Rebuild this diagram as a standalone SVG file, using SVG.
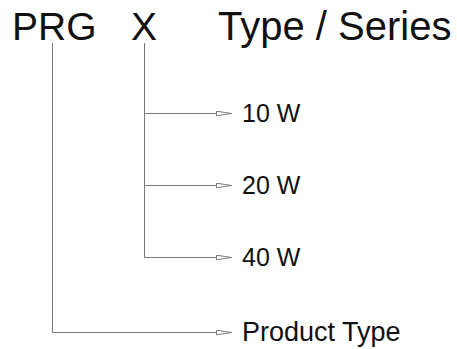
<svg xmlns="http://www.w3.org/2000/svg" width="457" height="349" viewBox="0 0 457 349">
<defs>
<marker id="arr" viewBox="0 0 16 6" refX="16" refY="3" markerWidth="16" markerHeight="6" markerUnits="userSpaceOnUse" orient="auto">
<path d="M0.5,0.7 L15.5,3 L0.5,5.3 Z" fill="#fff" stroke="#7a7a7a" stroke-width="1"/>
</marker>
<style>
.big{font-family:"Liberation Sans",Arial,sans-serif;font-size:39px;fill:#111}
.sm{font-family:"Liberation Sans",Arial,sans-serif;font-size:25px;fill:#111}
.ln{fill:none;stroke:#7a7a7a;stroke-width:1}
</style>
</defs>
<rect width="457" height="349" fill="#fff"/>
<g id="prg"><text class="big" x="12" y="40">PRG</text></g>
<g id="x"><text class="big" x="131" y="40">X</text></g>
<g id="type-series"><text class="big" x="218" y="40" style="font-size:40px">Type / Series</text></g>
<g id="w10"><text class="sm" x="242" y="122">10 W</text></g>
<g id="w20"><text class="sm" x="242" y="194">20 W</text></g>
<g id="w40"><text class="sm" x="242" y="266">40 W</text></g>
<g id="product-type"><text class="sm" x="242" y="341" style="font-size:27px">Product Type</text></g>
<g id="connectors">
<path class="ln" d="M52.5,43 V332.5 H232" marker-end="url(#arr)"/>
<path class="ln" d="M144.5,43 V257.5 H232" marker-end="url(#arr)"/>
<path class="ln" d="M144.5,113.5 H232" marker-end="url(#arr)"/>
<path class="ln" d="M144.5,185.5 H232" marker-end="url(#arr)"/>
</g>
</svg>
